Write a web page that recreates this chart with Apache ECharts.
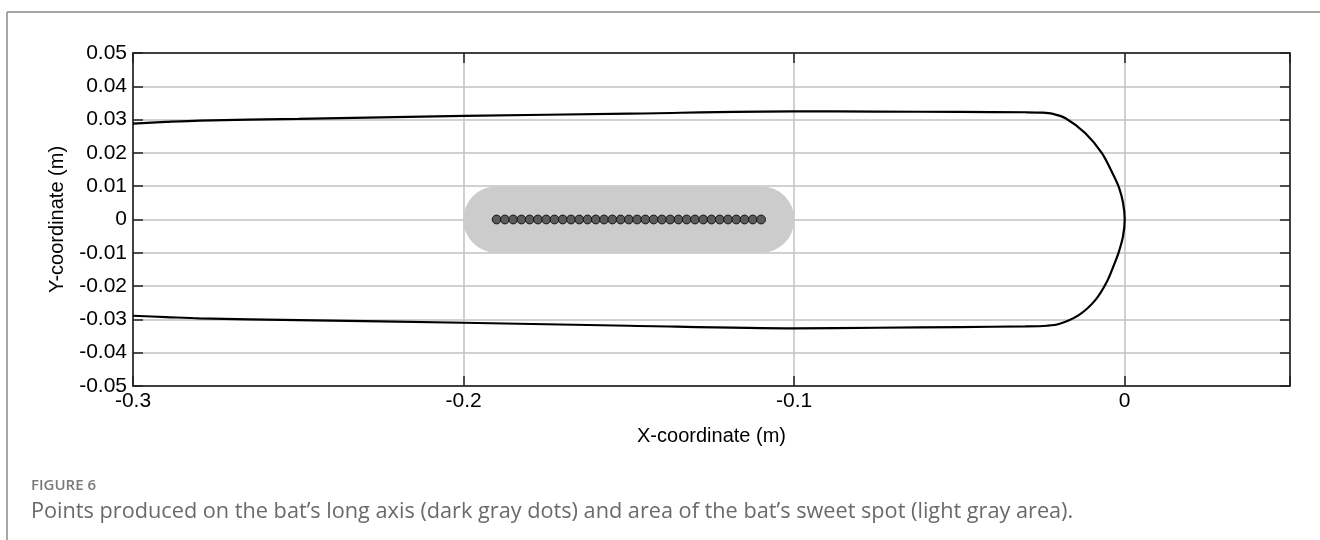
<!DOCTYPE html>
<html>
<head>
<meta charset="utf-8">
<title>Bat long axis points and sweet spot</title>
<script src="https://cdn.jsdelivr.net/npm/echarts@6/dist/echarts.min.js"></script>
<style>
  html, body { margin: 0; padding: 0; background: #ffffff; }
  #chart { width: 1320px; height: 540px; }
</style>
</head>
<body>
<div id="chart"></div>
<script>
// Bat outline (m): upper edge from handle side to tip, then lower edge back.
const outlineX = [-0.3, -0.29, -0.28, -0.25, -0.2, -0.15, -0.1, -0.075, -0.05, -0.03, -0.025,
  -0.022, -0.0179, -0.0119, -0.0069, -0.0035, -0.0017, -0.0005, 0,
  -0.0005, -0.0018, -0.0030, -0.0054, -0.0089, -0.0139, -0.0199, -0.0235, -0.03, -0.05, -0.075, -0.1,
  -0.15, -0.2, -0.25, -0.28, -0.29, -0.3];
const outlineY = [0.0288, 0.0293, 0.0297, 0.0302, 0.0311, 0.0318, 0.0325, 0.0324, 0.0323, 0.0322, 0.0321,
  0.0318, 0.0304, 0.0259, 0.0199, 0.0135, 0.0095, 0.0050, 0,
  -0.0050, -0.0098, -0.0130, -0.0187, -0.0242, -0.0287, -0.0314, -0.0319, -0.0321, -0.0323, -0.0325, -0.0327,
  -0.0319, -0.0310, -0.0302, -0.0297, -0.0293, -0.0289];

// Points along the long axis (m)
const axisPointsX = [-0.19, -0.1875, -0.185, -0.1825, -0.18, -0.1775, -0.175, -0.1725, -0.17,
  -0.1675, -0.165, -0.1625, -0.16, -0.1575, -0.155, -0.1525, -0.15, -0.1475, -0.145, -0.1425,
  -0.14, -0.1375, -0.135, -0.1325, -0.13, -0.1275, -0.125, -0.1225, -0.12, -0.1175, -0.115,
  -0.1125, -0.11];
const axisPointsY = axisPointsX.map(() => 0);

// Sweet spot: first centre, last centre, radius (m)
const sweetSpot = [-0.19, -0.11, 0.01];

// Axis settings
const xTicks = { min: -0.3, max: 0.05, interval: 0.1 };
const yTicks = { min: -0.05, max: 0.05, interval: 0.01 };
const xTitle = 'X-coordinate (m)';
const yTitle = 'Y-coordinate (m)';
const captionTitle = 'FIGURE 6';
const captionText = 'Points produced on the bat\u2019s long axis (dark gray dots) and area of the bat\u2019s sweet spot (light gray area).';

const outlineData = outlineX.map((x, i) => [x, outlineY[i]]);
const pointData = axisPointsX.map((x, i) => [x, axisPointsY[i]]);

const FONT = '"Liberation Sans", Arial, sans-serif';
const fmtX = v => (Math.abs(v) < 1e-9 ? '0' : (Math.abs(v - xTicks.max) < 1e-9 ? '' : v.toFixed(1)));
const fmtY = v => (Math.abs(v) < 1e-9 ? '0' : v.toFixed(2));

const tickStyle = { show: true, inside: true, length: 10, lineStyle: { color: '#222', width: 1.5 } };
const frameLine = { show: true, onZero: false, lineStyle: { color: '#111', width: 1.5 } };
const gridLine = { show: true, lineStyle: { color: '#c2c2c2', width: 1.5 } };

const chart = echarts.init(document.getElementById('chart'), null, { renderer: 'canvas' });
chart.setOption({
  animation: false,
  backgroundColor: '#ffffff',
  grid: { left: 133, right: 30, top: 53, bottom: 154, containLabel: false },
  xAxis: [
    {
      type: 'value', position: 'bottom', min: xTicks.min, max: xTicks.max, interval: xTicks.interval,
      axisLine: frameLine, axisTick: tickStyle, splitLine: gridLine,
      axisLabel: { color: '#000', fontFamily: FONT, fontSize: 21, margin: 5, formatter: fmtX },
      name: xTitle, nameLocation: 'middle', nameGap: 40,
      nameTextStyle: { color: '#000', fontFamily: FONT, fontSize: 20 }
    },
    {
      type: 'value', position: 'top', min: xTicks.min, max: xTicks.max, interval: xTicks.interval,
      axisLine: frameLine, axisTick: tickStyle, splitLine: { show: false }, axisLabel: { show: false }
    }
  ],
  yAxis: [
    {
      type: 'value', position: 'left', min: yTicks.min, max: yTicks.max, interval: yTicks.interval,
      axisLine: frameLine, axisTick: tickStyle, splitLine: gridLine,
      axisLabel: { color: '#000', fontFamily: FONT, fontSize: 21, margin: 6, formatter: fmtY },
      name: yTitle, nameLocation: 'middle', nameGap: 66, nameRotate: 90,
      nameTextStyle: { color: '#000', fontFamily: FONT, fontSize: 20 }
    },
    {
      type: 'value', position: 'right', min: yTicks.min, max: yTicks.max, interval: yTicks.interval,
      axisLine: frameLine, axisTick: tickStyle, splitLine: { show: false }, axisLabel: { show: false }
    }
  ],
  series: [
    {
      // light gray capsule around the long-axis points
      type: 'custom',
      z: 2,
      xAxisIndex: 0, yAxisIndex: 0,
      data: [sweetSpot],
      encode: { x: [0, 1], y: 2 },
      renderItem: function (params, api) {
        const a = api.coord([api.value(0), api.value(2)]);
        const b = api.coord([api.value(1), -api.value(2)]);
        const r = (b[1] - a[1]) / 2;
        return {
          type: 'rect',
          shape: { x: a[0] - r, y: a[1], width: b[0] - a[0] + 2 * r, height: 2 * r, r: r },
          style: { fill: '#cccccc' }
        };
      }
    },
    {
      type: 'line',
      z: 3,
      xAxisIndex: 0, yAxisIndex: 0,
      data: outlineData,
      showSymbol: false,
      smooth: 0.3,
      lineStyle: { color: '#000', width: 2.2 }
    },
    {
      type: 'scatter',
      z: 4,
      xAxisIndex: 0, yAxisIndex: 0,
      data: pointData,
      symbol: 'circle',
      symbolSize: 8.8,
      itemStyle: { color: '#5a5a5a', borderColor: '#111', borderWidth: 1, opacity: 1 }
    }
  ],
  graphic: [
    { type: 'line', shape: { x1: 7, y1: 12, x2: 1320, y2: 12 }, style: { stroke: '#8a8a8a', lineWidth: 1.5 } },
    { type: 'line', shape: { x1: 7, y1: 12, x2: 7, y2: 540 }, style: { stroke: '#8a8a8a', lineWidth: 1.5 } },
    {
      type: 'text', left: 31, top: 478,
      style: { text: captionTitle, fill: '#7a7a7a', font: '600 15px "Open Sans", sans-serif' }
    },
    {
      type: 'text', left: 31, top: 501,
      style: { text: captionText, fill: '#6a6a6a', font: '21.7px "Open Sans", sans-serif' }
    }
  ]
});
</script>
</body>
</html>
